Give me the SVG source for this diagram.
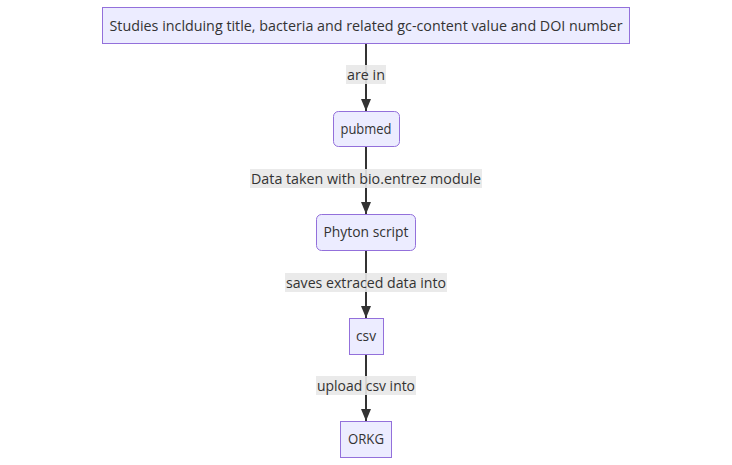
<svg xmlns="http://www.w3.org/2000/svg" width="732" height="465" viewBox="0 0 732 465">
<style>
.node rect{fill:#ECECFF;stroke:#9370DB;stroke-width:1}
.node text,.elabel text{font-family:"Open Sans","Liberation Sans",Arial,sans-serif;font-size:14px;fill:#333;text-anchor:middle;dominant-baseline:central}
.edge{stroke:#333;stroke-width:2;fill:none}
.elabel rect{fill:#e8e8e8;opacity:0.9}
</style>
<defs>
<marker id="arrow" viewBox="0 0 12 10" refX="12" refY="5" markerWidth="12" markerHeight="10" markerUnits="userSpaceOnUse" orient="auto">
<path d="M0,0 L12,5 L0,10 z" fill="#333"/>
</marker>
</defs>
<rect width="732" height="465" fill="#fff"/>
<g id="connectors">
<line class="edge" x1="366" y1="43" x2="366" y2="111" marker-end="url(#arrow)"/>
<line class="edge" x1="366" y1="146" x2="366" y2="214" marker-end="url(#arrow)"/>
<line class="edge" x1="366" y1="250" x2="366" y2="318" marker-end="url(#arrow)"/>
<line class="edge" x1="366" y1="354" x2="366" y2="421" marker-end="url(#arrow)"/>
<g class="elabel"><rect x="346" y="65" width="40" height="19"/><text x="366" y="74.5" textLength="38" lengthAdjust="spacingAndGlyphs">are in</text></g>
<g class="elabel"><rect x="250" y="169" width="232" height="19"/><text x="366" y="178.5" textLength="230" lengthAdjust="spacingAndGlyphs">Data taken with bio.entrez module</text></g>
<g class="elabel"><rect x="285" y="273" width="162" height="19"/><text x="366" y="282.5" textLength="160" lengthAdjust="spacingAndGlyphs">saves extraced data into</text></g>
<g class="elabel"><rect x="316" y="376" width="100" height="19"/><text x="366" y="385.5" textLength="98" lengthAdjust="spacingAndGlyphs">upload csv into</text></g>
</g>
<g id="studies" class="node"><rect x="102.5" y="7.5" width="527" height="36"/><text x="366" y="25.5" textLength="513" lengthAdjust="spacingAndGlyphs">Studies inclduing title, bacteria and related gc-content value and DOI number</text></g>
<g id="pubmed" class="node"><rect x="333.5" y="111.5" width="66" height="35" rx="5"/><text x="366" y="128.5" textLength="51" lengthAdjust="spacingAndGlyphs">pubmed</text></g>
<g id="phyton" class="node"><rect x="316.5" y="214.5" width="99" height="36" rx="5"/><text x="366" y="231.5" textLength="85" lengthAdjust="spacingAndGlyphs">Phyton script</text></g>
<g id="csv" class="node"><rect x="349.5" y="318.5" width="34" height="36"/><text x="366" y="335.5" textLength="20" lengthAdjust="spacingAndGlyphs">csv</text></g>
<g id="orkg" class="node"><rect x="340.5" y="421.5" width="51" height="36"/><text x="366" y="438.5" textLength="36" lengthAdjust="spacingAndGlyphs">ORKG</text></g>
</svg>
